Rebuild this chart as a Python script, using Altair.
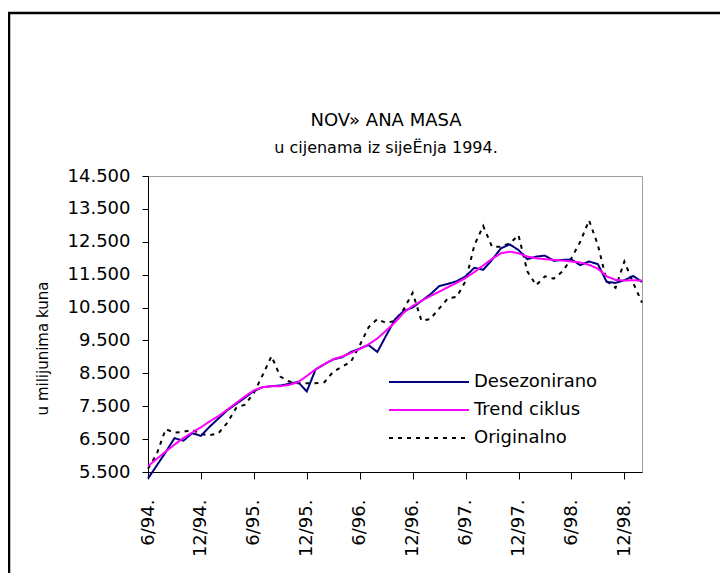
import json
import altair as alt
import pandas as pd

# x positions: month index, 0 = 6/94 ... 56 = 2/99
series_names = ["Desezonirano", "Trend ciklus", "Originalno"]
series_colors = ["#000080", "#FF00FF", "#000000"]

desezonirano = [5300, 5700, 6100, 6530, 6450, 6680, 6600, 6880, 7130, 7380, 7570, 7760,
                7960, 8080, 8110, 8130, 8180, 8240, 7950, 8620, 8780, 8920, 8990, 9150,
                9250, 9360, 9150, 9650, 10140, 10400, 10500, 10700, 10900, 11150, 11220,
                11300, 11450, 11710, 11650, 11950, 12300, 12420, 12250, 11970, 12050,
                12080, 11920, 11950, 11960, 11790, 11900, 11820, 11280, 11250, 11330,
                11460, 11280]
trend_ciklus = [5680, 5900, 6120, 6330, 6530, 6700, 6860, 7040, 7200, 7400, 7600, 7800,
                7980, 8080, 8110, 8110, 8150, 8230, 8420, 8620, 8780, 8930, 9010, 9120,
                9240, 9380, 9560, 9800, 10050, 10350, 10550, 10700, 10850, 10980, 11120,
                11250, 11400, 11580, 11780, 11980, 12150, 12200, 12150, 12050, 12000,
                11970, 11950, 11930, 11900, 11870, 11800, 11680, 11450, 11340, 11320,
                11330, 11320]
originalno = [5600, 6050, 6800, 6700, 6720, 6780, 6650, 6620, 6680, 7000, 7450, 7550,
              7900, 8450, 9020, 8400, 8250, 8200, 8200, 8200, 8230, 8550, 8700, 8850,
              9350, 9900, 10150, 10030, 10100, 10450, 10950, 10100, 10150, 10470, 10780,
              10830, 11300, 12400, 12980, 12350, 12350, 12450, 12700, 11600, 11180,
              11450, 11380, 11600, 12000, 12500, 13150, 12400, 11300, 11100, 11900,
              11250, 10650]

tick_positions = [0, 6, 12, 18, 24, 30, 36, 42, 48, 54]
tick_labels = ["6/94.", "12/94.", "6/95.", "12/95.", "6/96.", "12/96.",
               "6/97.", "12/97.", "6/98.", "12/98."]
y_ticks = [5500, 6500, 7500, 8500, 9500, 10500, 11500, 12500, 13500, 14500]

rows = []
for name, vals in [("Originalno", originalno), ("Desezonirano", desezonirano),
                   ("Trend ciklus", trend_ciklus)]:
    for i, v in enumerate(vals):
        rows.append({"t": i, "value": v, "series": name})
df = pd.DataFrame(rows)

FONT = "DejaVu Sans"

leg = alt.Legend(title=None, orient="none", legendX=270, legendY=195,
                 symbolType="M-4,0H4", symbolSize=400, symbolStrokeWidth=2,
                 labelFont=FONT, labelFontSize=18, labelColor="black",
                 labelOffset=34, rowPadding=8)

lines = alt.Chart(df).mark_line(interpolate="linear").encode(
    x=alt.X("t:Q", scale=alt.Scale(domain=[0, 56], nice=False, zero=False),
            axis=alt.Axis(values=tick_positions, title=None, grid=False,
                          labelExpr=json.dumps(tick_labels) + "[round(datum.value/6)]",
                          labelAngle=270, labelAlign="right", labelBaseline="middle",
                          labelPadding=20, tickSize=7,
                          labelFont=FONT, labelFontSize=18,
                          labelColor="black", domainColor="black", tickColor="black",
                          labelOverlap=False, labelFlush=False)),
    y=alt.Y("value:Q", scale=alt.Scale(domain=[5500, 14500], nice=False, zero=False),
            axis=alt.Axis(values=y_ticks, grid=False, title="u milijunima kuna",
                          labelExpr="replace(format(datum.value, ','), ',', '.')",
                          tickSize=6, labelPadding=12, labelFont=FONT, labelFontSize=18,
                          labelColor="black", domainColor="black", tickColor="black",
                          titleFont=FONT, titleFontSize=15, titleFontWeight="normal",
                          titleColor="black", titleAngle=270, titleAlign="center",
                          titleBaseline="middle", titleX=-106, titleY=172,
                          labelOverlap=False)),
    color=alt.Color("series:N", scale=alt.Scale(domain=series_names, range=series_colors),
                    legend=leg),
    strokeDash=alt.StrokeDash("series:N",
                              scale=alt.Scale(domain=series_names,
                                              range=[[1, 0], [1, 0], [4, 5]]),
                              legend=leg),
    strokeWidth=alt.StrokeWidth("series:N",
                                scale=alt.Scale(domain=series_names, range=[2, 2, 2.5]),
                                legend=None),
)

one = alt.Data(values=[{}])
top_border = alt.Chart(one).mark_rule(color="black", strokeWidth=2.5).encode(
    x=alt.value(-140), x2=alt.value(600), y=alt.value(-163))
left_border = alt.Chart(one).mark_rule(color="black", strokeWidth=2.5).encode(
    x=alt.value(-139), y=alt.value(-164), y2=alt.value(420))

chart = alt.layer(lines, top_border, left_border).properties(
    width=494, height=296,
    padding={"left": 140, "top": 168, "right": 78, "bottom": 101},
    autosize=alt.AutoSizeParams(type="none"),
    title=alt.TitleParams(text="NOV» ANA MASA", subtitle="u cijenama iz sijeËnja 1994.",
                          font=FONT, fontSize=18, fontWeight="normal", color="black",
                          subtitleFont=FONT, subtitleFontSize=16, subtitleColor="black",
                          subtitlePadding=10, anchor="middle", frame="group",
                          dx=-9, offset=-145),
).configure_view(stroke="#a0a0a0", strokeWidth=1)

chart.save("out.html", embed_options={"renderer": "svg", "actions": False})
